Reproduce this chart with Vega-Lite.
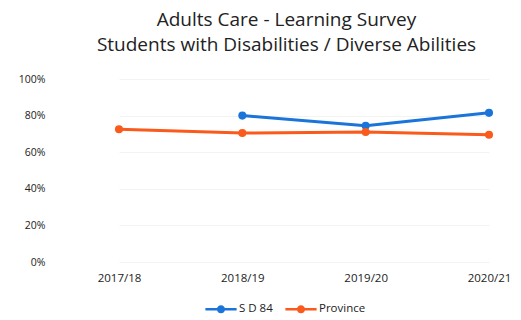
{
  "$schema": "https://vega.github.io/schema/vega-lite/v6.json",
  "width": 455,
  "height": 183,
  "padding": {"left": 18, "top": 11, "right": 6, "bottom": 5},
  "autosize": {"type": "pad"},
  "background": "white",
  "title": {
    "text": ["Adults Care - Learning Survey", "Students with Disabilities / Diverse Abilities"],
    "font": "Open Sans",
    "fontSize": 19,
    "fontWeight": "normal",
    "color": "#222222",
    "lineHeight": 25,
    "offset": 19,
    "anchor": "middle"
  },
  "data": {
    "values": [
      {"year": "2018/19", "series": "S D 84", "value": 80},
      {"year": "2019/20", "series": "S D 84", "value": 74.5},
      {"year": "2020/21", "series": "S D 84", "value": 81.5},
      {"year": "2017/18", "series": "Province", "value": 72.5},
      {"year": "2018/19", "series": "Province", "value": 70.5},
      {"year": "2019/20", "series": "Province", "value": 71},
      {"year": "2020/21", "series": "Province", "value": 69.5}
    ]
  },
  "config": {
    "view": {"stroke": null},
    "font": "Open Sans"
  },
  "encoding": {
    "x": {
      "field": "year",
      "type": "ordinal",
      "sort": ["2017/18", "2018/19", "2019/20", "2020/21"],
      "scale": {"type": "point", "range": [60, 430], "padding": 0},
      "axis": {
        "title": null,
        "labelAngle": 0,
        "domain": false,
        "ticks": false,
        "labelPadding": 10,
        "labelFontSize": 11.5,
        "labelColor": "#222222"
      }
    },
    "y": {
      "field": "value",
      "type": "quantitative",
      "scale": {"domain": [0, 100]},
      "axis": {
        "title": null,
        "values": [0, 20, 40, 60, 80, 100],
        "labelExpr": "datum.value + '%'",
        "domain": false,
        "ticks": false,
        "labelPadding": 14,
        "labelFontSize": 10.5,
        "labelColor": "#222222",
        "gridColor": "#f3f3f3"
      }
    },
    "color": {
      "field": "series",
      "type": "nominal",
      "scale": {"domain": ["S D 84", "Province"], "range": ["#1b74d9", "#fa5a1c"]},
      "legend": {
        "title": null,
        "orient": "none",
        "legendX": 152,
        "legendY": 220,
        "direction": "horizontal",
        "labelFontSize": 11.5,
        "labelColor": "#222222",
        "symbolType": "M-1.6,-0.14H1.6V0.14H-1.6Z M-0.42,0 a0.42,0.42 0 1,1 0.84,0 a0.42,0.42 0 1,1 -0.84,0",
        "symbolSize": 380,
        "symbolStrokeWidth": 0,
        "columnPadding": 12,
        "labelOffset": 8
      }
    }
  },
  "layer": [
    {"mark": {"type": "line", "strokeWidth": 3}},
    {"mark": {"type": "point", "filled": true, "size": 65, "opacity": 1}}
  ]
}
